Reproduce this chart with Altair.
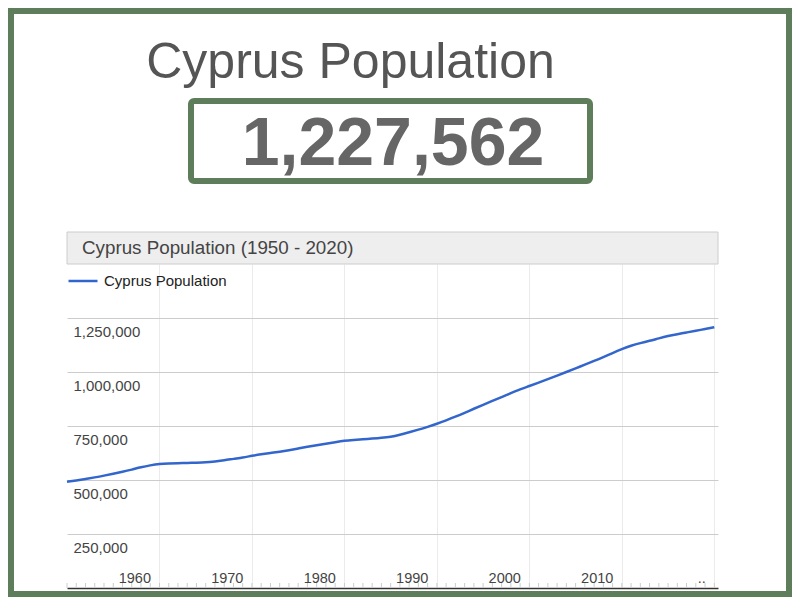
import altair as alt
import pandas as pd

# ---- data ----
YEARS = list(range(1950, 2021))
POPULATION = [
    492000, 498000, 505000, 512000, 520000, 529000, 538000, 548000, 559000, 568000,
    575000, 577000, 578000, 579000, 580000, 581000, 586000, 591000, 598000, 604000,
    612000, 619000, 625000, 631000, 638000, 646000, 654000, 661000, 668000, 675000,
    682000, 685000, 688000, 692000, 695000, 699000, 709000, 721000, 733000, 746000,
    760000, 776000, 793000, 811000, 830000, 848000, 866000, 884000, 902000, 920000,
    935000, 951000, 967000, 983000, 1000000, 1017000, 1034000, 1051000, 1069000, 1088000,
    1106000, 1122000, 1134000, 1144000, 1156000, 1167000, 1175000, 1183000, 1191000, 1199000,
    1207000,
]
SERIES = "Cyprus Population"
PAGE_TITLE = "Cyprus Population"
CURRENT = [1227562]
CHART_TITLE = "Cyprus Population (1950 - 2020)"
Y_TICKS = [250000, 500000, 750000, 1000000, 1250000]
X_TICKS = [1960, 1970, 1980, 1990, 2000, 2010, 2020]

GREEN = "#5e7e5b"
BLUE = "#3366cc"
FONT = "Arial, Liberation Sans, sans-serif"

W, H = 651, 324

df = pd.DataFrame({"year": YEARS, "pop": POPULATION, "series": SERIES})
one = pd.DataFrame({"k": [0]})

x_scale = alt.Scale(domain=[1950, 2020.4], nice=False, zero=False)
y_scale = alt.Scale(domain=[0, 1500000], nice=False)

x_axis = alt.Axis(
    values=X_TICKS, title=None, grid=True, gridColor="#ebebeb",
    ticks=False, domain=True, domainColor="#333333", domainWidth=1.5,
    labelAlign="right", labelBaseline="alphabetic", labelPadding=-6,
    labelOffset=-9, labelFontSize=14.5, labelColor="#444444",
    labelFont=FONT, format="d", labelFlush=False, labelOverlap=False,
    labelExpr="datum.value == 2020 ? '..' : datum.label",
)


def box(x, x2, y, y2, **kw):
    return alt.Chart(one).mark_rect(**kw).encode(
        x=alt.value(x), x2=alt.value(x2), y=alt.value(y), y2=alt.value(y2)
    )


frame = [
    box(-59, -53, -256, 333, color=GREEN),
    box(719, 725, -256, 333, color=GREEN),
    box(-59, 725, -256, -250, color=GREEN),
    box(-59, 725, 327, 333, color=GREEN),
]

title = alt.Chart(one).mark_text(
    text=PAGE_TITLE, font=FONT, fontSize=50, color="#555555",
    align="center", baseline="alphabetic",
).encode(x=alt.value(283.5), y=alt.value(-186))

num_box = box(124, 523, -163, -83, fill="white", stroke=GREEN, strokeWidth=6, cornerRadius=3)

number = alt.Chart(pd.DataFrame({"v": CURRENT})).mark_text(
    font=FONT, fontSize=68, fontWeight="bold", color="#666666",
    align="center", baseline="alphabetic",
).encode(text=alt.Text("v:Q", format=","), x=alt.value(326), y=alt.value(-99))

header = box(0, W, -32, 0, fill="#eeeeee", stroke="#cccccc", strokeWidth=1)

header_text = alt.Chart(one).mark_text(
    text=CHART_TITLE, font=FONT, fontSize=18.8, color="#444444",
    align="left", baseline="alphabetic",
).encode(x=alt.value(15), y=alt.value(-10))

line = alt.Chart(df).mark_line(strokeWidth=2.5, interpolate="basis").encode(
    x=alt.X("year:Q", scale=x_scale, axis=x_axis),
    y=alt.Y(
        "pop:Q", scale=y_scale,
        axis=alt.Axis(
            values=Y_TICKS, title=None, grid=True, gridColor="#cccccc",
            ticks=False, domain=False, labelAlign="left", labelBaseline="alphabetic",
            labelPadding=-6, labelOffset=18, format=",d",
            labelFontSize=15, labelColor="#444444", labelFont=FONT,
        ),
    ),
    color=alt.Color(
        "series:N", scale=alt.Scale(range=[BLUE]),
        legend=alt.Legend(
            title=None, orient="none", legendX=0, legendY=1,
            symbolType="stroke", symbolSize=841, symbolStrokeWidth=2.5,
            labelFontSize=15, labelColor="#222222", labelFont=FONT,
            labelOffset=5, padding=0,
        ),
    ),
)

minor = alt.Chart(df).mark_rule(color="#cccccc", strokeWidth=1).encode(
    x=alt.X("year:Q", scale=x_scale, axis=x_axis),
    y=alt.value(H - 5),
    y2=alt.value(H),
)

chart = alt.layer(
    *frame, title, num_box, number, header, header_text, line, minor
).properties(
    width=W, height=H,
    padding={"left": 59, "top": 256, "right": 74, "bottom": 9},
    autosize=alt.AutoSizeParams(type="none"),
    background="white",
).configure_view(strokeWidth=0)

chart.save("out.html", embed_options={"renderer": "svg", "actions": False})
